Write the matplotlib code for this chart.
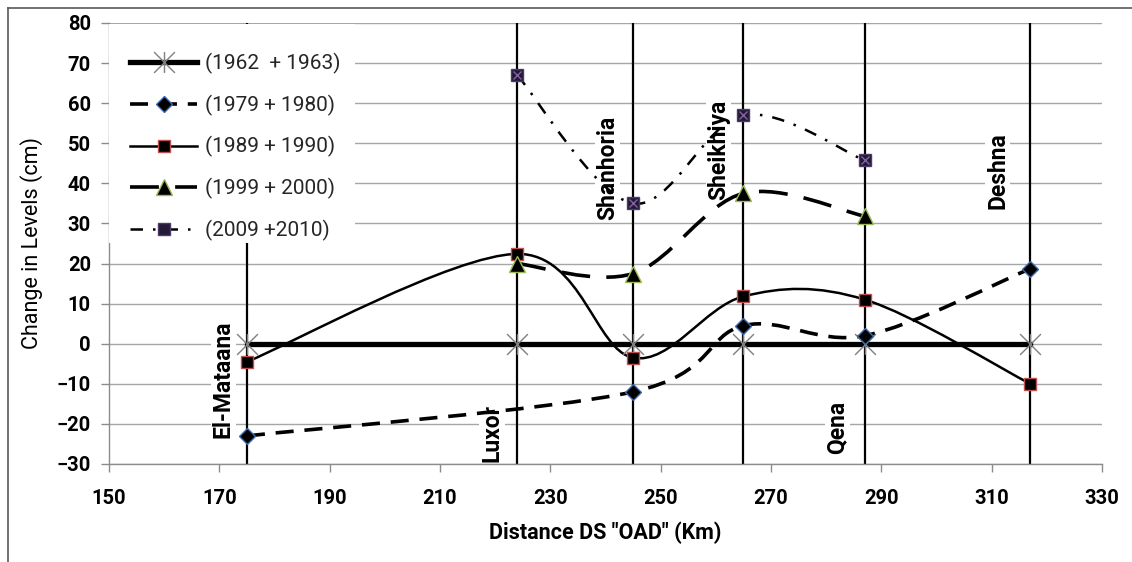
"""Change in water levels along the reach downstream of OAD."""

import matplotlib

matplotlib.use("Agg")
import matplotlib.pyplot as plt
import numpy as np
from matplotlib.lines import Line2D
from matplotlib.patches import PathPatch, Rectangle
from matplotlib.path import Path

stations = ["El-Mataana", "Luxor", "Shanhoria", "Sheikhiya", "Qena", "Deshna"]
station_km = [175, 224, 245, 265, 287, 317]

km_1962 = [175, 224, 245, 265, 287, 317]
dz_1962 = [0, 0, 0, 0, 0, 0]
km_1979 = [175, 245, 265, 287, 317]
dz_1979 = [-23, -12, 4.5, 2, 18.7]
km_1989 = [175, 224, 245, 265, 287, 317]
dz_1989 = [-4.5, 22.4, -3.5, 11.8, 11, -10]
km_1999 = [224, 245, 265, 287]
dz_1999 = [20, 17.5, 37.5, 31.8]
km_2009 = [224, 245, 265, 287]
dz_2009 = [67, 35, 57, 45.7]

labels = ["(1962  + 1963)", "(1979 + 1980)", "(1989 + 1990)", "(1999 + 2000)", "(2009 +2010)"]

x_ticks = list(range(150, 331, 20))
y_ticks = list(range(-30, 81, 10))

# where the rotated station names sit (km, cm)
name_pos = [(170.7, -8.8), (219.4, -22.3), (240.4, 43.8), (260.5, 48.3), (282.0, -20.8), (311.1, 43.1)]

plt.rcParams["font.family"] = ["Roboto", "DejaVu Sans"]

ASTERISK = Path(
    [(0, -1), (0, 1), (-1, -1), (1, 1), (-1, 1), (1, -1)],
    [Path.MOVETO, Path.LINETO] * 3,
)


def smooth_path(x, y):
    # cubic Bezier through the points, same tangents as a spreadsheet "smoothed line"
    pts = np.column_stack([x, y]).astype(float)
    n = len(pts)
    verts = [pts[0]]
    codes = [Path.MOVETO]
    for i in range(n - 1):
        p0 = pts[max(i - 1, 0)]
        p1 = pts[i]
        p2 = pts[i + 1]
        p3 = pts[min(i + 2, n - 1)]
        verts += [p1 + (p2 - p0) / 6, p2 - (p3 - p1) / 6, p2]
        codes += [Path.CURVE4] * 3
    return Path(verts, codes)


series = [
    dict(x=km_1962, y=dz_1962, lw=3.8, ls="-", smooth=False,
         marker=ASTERISK, ms=15, mfc="none", mec="#7f7f7f", mew=1.0),
    dict(x=km_1979, y=dz_1979, lw=2.6, ls=(0, (5, 3)), smooth=True,
         marker="D", ms=8.5, mfc="black", mec="#3d6bb3", mew=1.0),
    dict(x=km_1989, y=dz_1989, lw=1.8, ls="-", smooth=True,
         marker="s", ms=9, mfc="black", mec="#c0504d", mew=1.0),
    dict(x=km_1999, y=dz_1999, lw=2.6, ls=(0, (8, 4.5)), smooth=True,
         marker="^", ms=11, mfc="black", mec="#9bbb59", mew=1.0),
    dict(x=km_2009, y=dz_2009, lw=1.8, ls=(0, (5, 4, 1, 4)), smooth=True,
         marker="s", ms=9, mfc="#241a36", mec="#4b3a6b", mew=1.0),
]

fig = plt.figure(figsize=(11.32, 5.62), dpi=100)
ax = fig.add_axes([0.0963, 0.1744, 0.8772, 0.7847])
ax.set_xlim(150, 330)
ax.set_ylim(-30, 80)
ax.set_xticks(x_ticks)
ax.set_yticks(y_ticks)
ax.yaxis.grid(True, color="#a6a6a6", lw=1.0, zorder=0)
ax.set_axisbelow(True)
for side in ("top", "right"):
    ax.spines[side].set_visible(False)
for side in ("left", "bottom"):
    ax.spines[side].set_color("#8c8c8c")
    ax.spines[side].set_linewidth(1.0)
ax.tick_params(axis="both", direction="out", length=6, width=1.0, color="#8c8c8c",
               labelsize=14.5)
ax.tick_params(axis="x", pad=12)
ax.tick_params(axis="y", pad=7)
for lab in ax.get_xticklabels() + ax.get_yticklabels():
    lab.set_fontweight("bold")

# station verticals
for km in station_km:
    ax.axvline(km, color="black", lw=1.6, zorder=2)

for name, (px, py) in zip(stations, name_pos):
    ax.text(px, py, name, rotation=90, ha="center", va="center", fontsize=16.5,
            fontweight="bold", zorder=2.5,
            bbox=dict(facecolor="white", edgecolor="none", pad=0.8))

handles = []
for s in series:
    if s["smooth"]:
        ax.add_patch(PathPatch(smooth_path(s["x"], s["y"]), fill=False, edgecolor="black",
                               lw=s["lw"], linestyle=s["ls"], capstyle="butt", zorder=3))
    else:
        ax.plot(s["x"], s["y"], color="black", lw=s["lw"], ls=s["ls"], zorder=3)
    ax.plot(s["x"], s["y"], ls="none", marker=s["marker"], ms=s["ms"], mfc=s["mfc"],
            mec=s["mec"], mew=s["mew"], zorder=4)
    handles.append(Line2D([], [], color="black", lw=s["lw"], ls=s["ls"], marker=s["marker"],
                          ms=s["ms"], mfc=s["mfc"], mec=s["mec"], mew=s["mew"]))

# cross on top of the 2009 squares
ax.plot(km_2009, dz_2009, ls="none", marker="x", ms=6, mec="#8064a2", mew=1.0, zorder=5)

ax.add_patch(Rectangle((150, 25), 44.6, 54.8, facecolor="white", edgecolor="none", zorder=5))
leg = ax.legend(handles, labels, loc="upper left", bbox_to_anchor=(0.013, 0.95),
                frameon=False, fontsize=15, handlelength=3.2, handletextpad=0.4,
                labelspacing=0.98, borderaxespad=0, numpoints=1)
leg.set_zorder(6)
for t in leg.get_texts():
    t.set_color("#262626")

ax.set_xlabel('Distance DS "OAD" (Km)', fontsize=15.5, fontweight="bold", labelpad=10)
ax.set_ylabel("Change in Levels (cm)", fontsize=15.5, labelpad=10)

# outer frame, left and top edges only
fig.add_artist(Line2D([0.0071, 0.0071], [0, 0.9858], transform=fig.transFigure,
                      color="#595959", lw=1.2))
fig.add_artist(Line2D([0.0071, 1], [0.9858, 0.9858], transform=fig.transFigure,
                      color="#595959", lw=1.2))

fig.savefig("out.png", dpi=100)
plt.close(fig)
